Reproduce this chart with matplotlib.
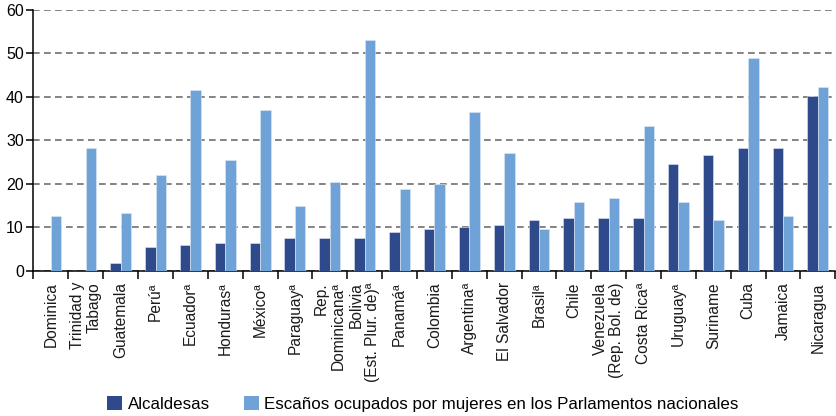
import numpy as np
import matplotlib
matplotlib.use("Agg")
import matplotlib.pyplot as plt
from matplotlib.patches import Patch

plt.rcParams['font.family'] = ['Liberation Sans', 'DejaVu Sans']

# ---- datos ----
paises = ['Dominica', 'Trinidad y\nTabago', 'Guatemala', 'Perúª', 'Ecuadorª',
          'Hondurasª', 'Méxicoª', 'Paraguayª', 'Rep.\nDominicanaª',
          'Bolivia\n(Est. Plur. de)ª', 'Panamáª', 'Colombia', 'Argentinaª',
          'El Salvador', 'Brasilª', 'Chile', 'Venezuela\n(Rep. Bol. de)',
          'Costa Ricaª', 'Uruguayª', 'Suriname', 'Cuba', 'Jamaica', 'Nicaragua']
alcaldesas = [0, 0, 1.8, 5.4, 5.9, 6.4, 6.4, 7.5, 7.5, 7.5, 9.0, 9.6, 10.1,
              10.6, 11.6, 12.2, 12.2, 12.2, 24.6, 26.7, 28.2, 28.2, 40.1]
escanos = [12.7, 28.2, 13.2, 22.0, 41.7, 25.6, 37.1, 14.8, 20.5, 53.1, 18.9,
           19.9, 36.5, 27.1, 9.6, 15.8, 16.8, 33.3, 15.8, 11.6, 48.9, 12.6, 42.2]
yticks = [0, 10, 20, 30, 40, 50, 60]

c_dark = '#2F4A8A'
c_light = '#6FA3D8'

fig = plt.figure(figsize=(8.37, 4.16), dpi=100)
ax = fig.add_axes([0.040, 0.349, 0.958, 0.627])

x = np.arange(len(paises))
w = 0.30
ax.bar(x - w / 2, alcaldesas, width=w, color=c_dark, edgecolor='#dfe8f5', linewidth=0.4, zorder=3)
ax.bar(x + w / 2, escanos, width=w, color=c_light, edgecolor='#dfe8f5', linewidth=0.4, zorder=3)

ax.set_xlim(-0.5, len(paises) - 0.5)
ax.set_ylim(0, 60)
ax.set_yticks(yticks)
ax.yaxis.grid(True, linestyle=(0, (4, 2.6)), color='#6e6e6e', linewidth=1.2, zorder=0)
ax.set_axisbelow(True)

for s in ['top', 'right']:
    ax.spines[s].set_visible(False)
ax.spines['left'].set_linewidth(1.1)
ax.spines['bottom'].set_linewidth(1.1)

# ticks en los bordes de cada categoría
ax.set_xticks(np.arange(len(paises) + 1) - 0.5)
ax.set_xticklabels([])
ax.tick_params(axis='x', length=6, width=1.1, direction='out')
ax.tick_params(axis='y', length=5, width=1.1, labelsize=11.5, pad=2)

for i, p in enumerate(paises):
    ax.text(i, -2.6, p, rotation=90, ha='center', va='top', multialignment='right',
            fontsize=11.2, color='#1a1a1a', linespacing=1.1)

handles = [Patch(facecolor=c_dark, label='Alcaldesas'),
           Patch(facecolor=c_light, label='Escaños ocupados por mujeres en los Parlamentos nacionales')]
fig.legend(handles=handles, loc='center', bbox_to_anchor=(0.505, 0.028), ncol=2, frameon=False,
           fontsize=12.2, handlelength=0.9, handleheight=0.9, handletextpad=0.3, columnspacing=2.0)

fig.savefig('out.png', dpi=100)
